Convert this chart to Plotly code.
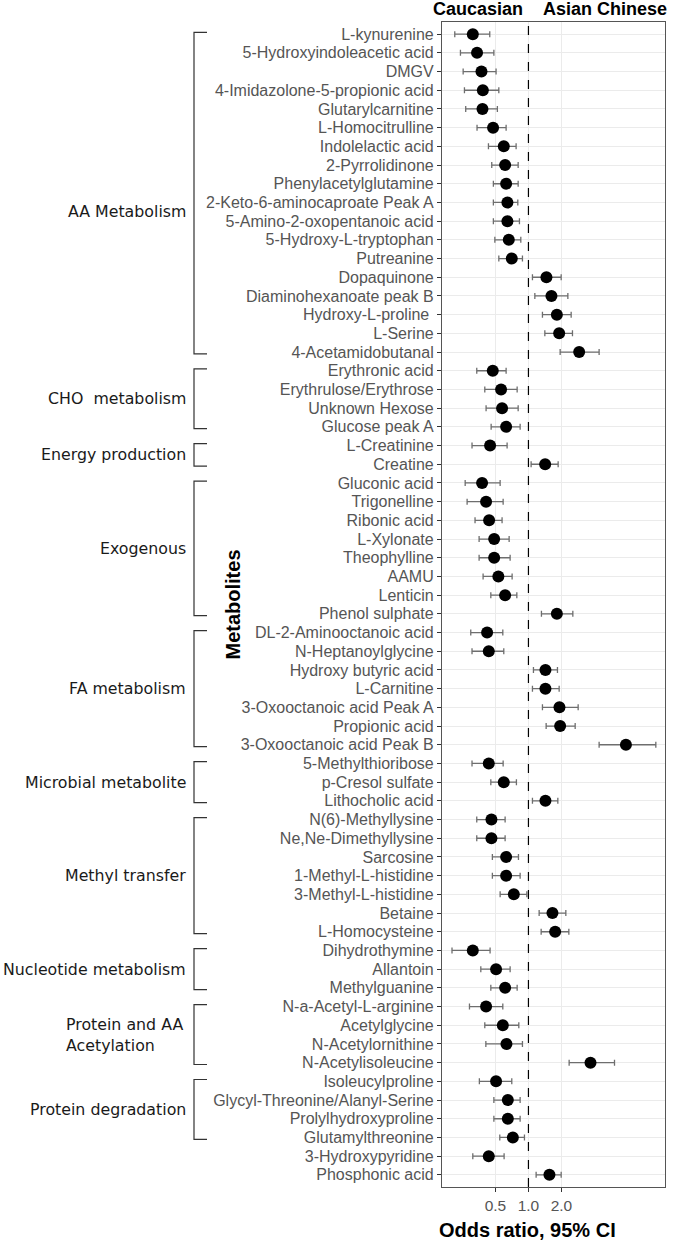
import plotly.graph_objects as go

metabolites = [
    "L-kynurenine", "5-Hydroxyindoleacetic acid", "DMGV", "4-Imidazolone-5-propionic acid",
    "Glutarylcarnitine", "L-Homocitrulline", "Indolelactic acid", "2-Pyrrolidinone",
    "Phenylacetylglutamine", "2-Keto-6-aminocaproate Peak A", "5-Amino-2-oxopentanoic acid",
    "5-Hydroxy-L-tryptophan", "Putreanine", "Dopaquinone", "Diaminohexanoate peak B",
    "Hydroxy-L-proline ", "L-Serine", "4-Acetamidobutanal",
    "Erythronic acid", "Erythrulose/Erythrose", "Unknown Hexose", "Glucose peak A",
    "L-Creatinine", "Creatine",
    "Gluconic acid", "Trigonelline", "Ribonic acid", "L-Xylonate", "Theophylline", "AAMU",
    "Lenticin", "Phenol sulphate",
    "DL-2-Aminooctanoic acid", "N-Heptanoylglycine", "Hydroxy butyric acid", "L-Carnitine",
    "3-Oxooctanoic acid Peak A", "Propionic acid", "3-Oxooctanoic acid Peak B",
    "5-Methylthioribose", "p-Cresol sulfate", "Lithocholic acid",
    "N(6)-Methyllysine", "Ne,Ne-Dimethyllysine", "Sarcosine", "1-Methyl-L-histidine",
    "3-Methyl-L-histidine", "Betaine", "L-Homocysteine",
    "Dihydrothymine", "Allantoin", "Methylguanine",
    "N-a-Acetyl-L-arginine", "Acetylglycine", "N-Acetylornithine", "N-Acetylisoleucine",
    "Isoleucylproline", "Glycyl-Threonine/Alanyl-Serine", "Prolylhydroxyproline",
    "Glutamylthreonine", "3-Hydroxypyridine", "Phosphonic acid",
]

odds_ratio = [
    0.311, 0.340, 0.373, 0.384, 0.381, 0.476, 0.596, 0.613, 0.626, 0.643, 0.643, 0.662, 0.705,
    1.459, 1.621, 1.816, 1.906, 2.90,
    0.473, 0.563, 0.575, 0.626,
    0.447, 1.42,
    0.378, 0.411, 0.438, 0.487, 0.487, 0.532, 0.613, 1.816,
    0.420, 0.435, 1.429, 1.429, 1.918, 1.946, 7.74,
    0.435, 0.596, 1.429,
    0.460, 0.460, 0.626, 0.626, 0.736, 1.656, 1.752,
    0.311, 0.507, 0.613,
    0.411, 0.584, 0.630, 3.68,
    0.507, 0.649, 0.649, 0.721, 0.435, 1.554,
]

ci_low = [
    0.213, 0.240, 0.254, 0.261, 0.268, 0.340, 0.432, 0.463, 0.479, 0.479, 0.479, 0.494, 0.537,
    1.088, 1.144, 1.342, 1.411, 1.946,
    0.338, 0.400, 0.411, 0.457,
    0.306, 1.058,
    0.265, 0.276, 0.326, 0.355, 0.355, 0.386, 0.454, 1.314,
    0.298, 0.306, 1.111, 1.088, 1.342, 1.450, 4.41,
    0.306, 0.454, 1.088,
    0.338, 0.338, 0.469, 0.469, 0.552, 1.252, 1.306,
    0.201, 0.368, 0.454,
    0.290, 0.400, 0.409, 2.35,
    0.357, 0.484, 0.484, 0.548, 0.311, 1.175,
]

ci_high = [
    0.444, 0.484, 0.507, 0.537, 0.521, 0.626, 0.772, 0.806, 0.806, 0.800, 0.828, 0.852, 0.882,
    1.988, 2.288, 2.452, 2.520, 4.41,
    0.626, 0.789, 0.806, 0.840,
    0.639, 1.866,
    0.552, 0.588, 0.575, 0.667, 0.681, 0.710, 0.784, 2.54,
    0.584, 0.596, 1.839, 1.906, 2.84, 2.667, 14.5,
    0.588, 0.777, 1.854,
    0.613, 0.613, 0.811, 0.840, 0.967, 2.193, 2.336,
    0.447, 0.681, 0.789,
    0.584, 0.817, 0.882, 6.09,
    0.705, 0.840, 0.840, 0.920, 0.600, 1.988,
]

group_names = [
    "AA Metabolism", "CHO  metabolism", "Energy production", "Exogenous", "FA metabolism",
    "Microbial metabolite", "Methyl transfer", "Nucleotide metabolism",
    "Protein and AA<br>Acetylation", "Protein degradation",
]
group_sizes = [18, 4, 2, 8, 7, 3, 7, 3, 4, 4]

x_ticks = [0.5, 1.0, 2.0]
x_tick_text = ["0.5", "1.0", "2.0"]

rows = list(range(len(metabolites)))
err_plus = [h - o for h, o in zip(ci_high, odds_ratio)]
err_minus = [o - l for o, l in zip(odds_ratio, ci_low)]

fig = go.Figure()
fig.add_trace(go.Scatter(
    x=odds_ratio, y=rows, mode="markers",
    marker=dict(color="black", size=12),
    error_x=dict(type="data", symmetric=False, array=err_plus, arrayminus=err_minus,
                 color="#6e6e6e", thickness=1.3, width=3),
    showlegend=False, cliponaxis=False,
))

fig.add_vline(x=1.0, line=dict(color="black", width=1.2, dash="dash"))

# left plot edge is at 442px, plot width 223px
def px_to_paper(px):
    return (px - 442) / 223.0

label_nudge = {0: 1.0}
start = 0
for gi, (name, size) in enumerate(zip(group_names, group_sizes)):
    top = start - 0.1
    bot = start + size - 1 + 0.1
    xb = px_to_paper(194)
    xe = px_to_paper(207)
    fig.add_shape(type="path", xref="paper", yref="y",
                  path=f"M {xe},{top} L {xb},{top} L {xb},{bot} L {xe},{bot}",
                  line=dict(color="#333333", width=1.2))
    center = start + (size - 1) / 2 + label_nudge.get(gi, 0)
    if "<br>" in name:
        fig.add_annotation(x=px_to_paper(64), y=center, xref="paper", yref="y",
                           text=name, showarrow=False, xanchor="left", align="left",
                           font=dict(family="DejaVu Sans", size=15.8, color="#1a1a1a"))
    else:
        fig.add_annotation(x=px_to_paper(188), y=center, xref="paper", yref="y",
                           text=name, showarrow=False, xanchor="right",
                           font=dict(family="DejaVu Sans", size=15.8, color="#1a1a1a"))
    start += size

fig.add_annotation(x=px_to_paper(232), y=0.5, xref="paper", yref="paper",
                   xanchor="center", yanchor="middle",
                   text="<b>Metabolites</b>", textangle=-90, showarrow=False,
                   font=dict(family="Liberation Sans", size=20, color="black"))
fig.add_annotation(x=px_to_paper(527), y=0, xref="paper", yref="paper", yshift=-43,
                   xanchor="center", yanchor="middle",
                   text="<b>Odds ratio, 95% CI</b>", showarrow=False,
                   font=dict(family="Liberation Sans", size=20, color="black"))
fig.add_annotation(x=px_to_paper(478), y=1.0, xref="paper", yref="paper", yshift=13,
                   xanchor="center", yanchor="middle",
                   text="<b>Caucasian</b>", showarrow=False,
                   font=dict(family="Liberation Sans", size=18, color="black"))
fig.add_annotation(x=px_to_paper(605), y=1.0, xref="paper", yref="paper", yshift=13,
                   xanchor="center", yanchor="middle",
                   text="<b>Asian Chinese</b>", showarrow=False,
                   font=dict(family="Liberation Sans", size=18, color="black"))

fig.update_layout(
    width=673, height=1240,
    margin=dict(l=442, r=8, t=22, b=53),
    paper_bgcolor="white", plot_bgcolor="white",
    font=dict(family="Liberation Sans"),
    xaxis=dict(type="log", range=[-0.788, 1.245],
               tickvals=x_ticks, ticktext=x_tick_text,
               tickfont=dict(size=15.5, color="#555555"),
               ticks="outside", ticklen=4, tickcolor="#333333",
               showgrid=True, gridcolor="#ebebeb", gridwidth=1,
               showline=True, linecolor="#555555", linewidth=1.2, mirror=True,
               zeroline=False),
    yaxis=dict(range=[61.65, -0.65],
               tickvals=rows, ticktext=metabolites,
               tickfont=dict(size=16, color="#555555"),
               ticks="outside", ticklen=4, tickcolor="#333333",
               showgrid=True, gridcolor="#ebebeb", gridwidth=1,
               showline=True, linecolor="#555555", linewidth=1.2, mirror=True,
               zeroline=False, automargin=False),
)

fig.write_html("out.html", config={"displayModeBar": False},
               post_script="document.body.style.margin='0';")
